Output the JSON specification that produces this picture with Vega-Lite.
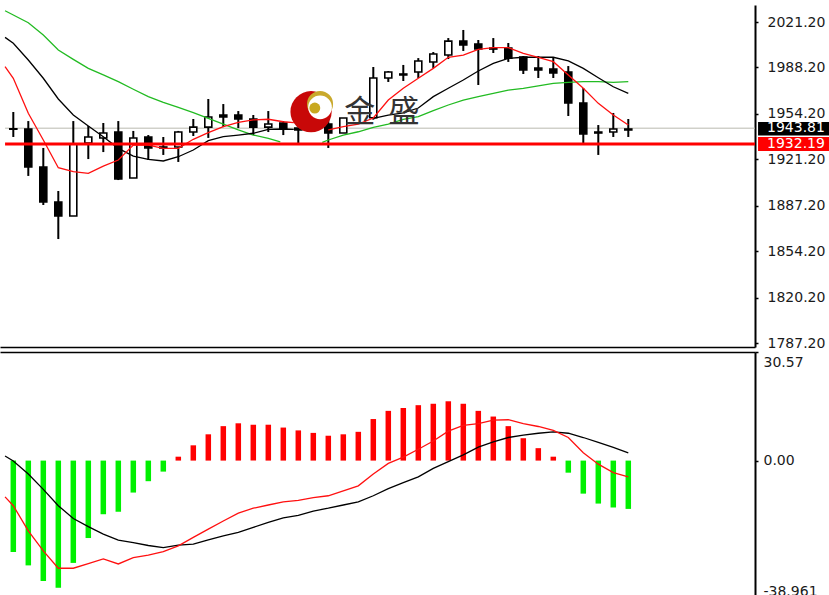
{"$schema":"https://vega.github.io/schema/vega-lite/v6.json","background":"white","padding":{"left":0,"top":5,"right":0,"bottom":0},"spacing":0,"config":{"view":{"stroke":null},"axis":{"grid":false}},
"datasets":{
"candles":[
{"i":0,"open":1943.4,"high":1955.6,"low":1937.4,"close":1943.0,"dir":"down"},
{"i":1,"open":1943.2,"high":1949.0,"low":1909.0,"close":1915.5,"dir":"down"},
{"i":2,"open":1915.5,"high":1929.4,"low":1887.8,"close":1890.0,"dir":"down"},
{"i":3,"open":1890.0,"high":1898.0,"low":1863.0,"close":1879.8,"dir":"down"},
{"i":4,"open":1879.8,"high":1949.0,"low":1879.8,"close":1932.3,"dir":"up"},
{"i":5,"open":1933.0,"high":1945.4,"low":1921.3,"close":1937.4,"dir":"up"},
{"i":6,"open":1936.7,"high":1947.6,"low":1926.4,"close":1940.3,"dir":"up"},
{"i":7,"open":1941.0,"high":1949.0,"low":1906.0,"close":1906.8,"dir":"down"},
{"i":8,"open":1907.5,"high":1941.8,"low":1907.5,"close":1936.7,"dir":"up"},
{"i":9,"open":1937.4,"high":1938.8,"low":1920.6,"close":1929.4,"dir":"down"},
{"i":10,"open":1930.1,"high":1937.4,"low":1924.3,"close":1929.4,"dir":"down"},
{"i":11,"open":1930.1,"high":1941.8,"low":1919.2,"close":1941.0,"dir":"up"},
{"i":12,"open":1941.0,"high":1950.5,"low":1938.1,"close":1944.6,"dir":"up"},
{"i":13,"open":1944.6,"high":1965.1,"low":1936.7,"close":1951.95,"dir":"up"},
{"i":14,"open":1953.4,"high":1961.4,"low":1944.6,"close":1951.95,"dir":"down"},
{"i":15,"open":1953.4,"high":1956.3,"low":1943.9,"close":1950.5,"dir":"down"},
{"i":16,"open":1950.5,"high":1953.4,"low":1938.8,"close":1944.6,"dir":"down"},
{"i":17,"open":1944.6,"high":1956.3,"low":1941.0,"close":1946.9,"dir":"up"},
{"i":18,"open":1947.6,"high":1949.0,"low":1938.8,"close":1943.2,"dir":"down"},
{"i":19,"open":1943.9,"high":1943.9,"low":1933.0,"close":1942.5,"dir":"down"},
{"i":21,"open":1946.9,"high":1949.8,"low":1929.4,"close":1940.3,"dir":"down"},
{"i":22,"open":1940.3,"high":1951.2,"low":1940.3,"close":1951.2,"dir":"up"},
{"i":24,"open":1951.4,"high":1988.4,"low":1950.0,"close":1980.4,"dir":"up"},
{"i":25,"open":1980.4,"high":1985.5,"low":1977.5,"close":1984.8,"dir":"up"},
{"i":26,"open":1983.3,"high":1989.9,"low":1978.2,"close":1982.6,"dir":"down"},
{"i":27,"open":1984.8,"high":1994.9,"low":1980.4,"close":1992.8,"dir":"up"},
{"i":28,"open":1992.1,"high":1999.3,"low":1987.7,"close":1997.9,"dir":"up"},
{"i":29,"open":1997.1,"high":2009.5,"low":1994.2,"close":2007.3,"dir":"up"},
{"i":30,"open":2007.3,"high":2015.4,"low":2000.1,"close":2004.4,"dir":"down"},
{"i":31,"open":2005.2,"high":2008.1,"low":1975.3,"close":2001.5,"dir":"down"},
{"i":32,"open":2002.2,"high":2009.5,"low":1998.6,"close":2001.5,"dir":"down"},
{"i":33,"open":2002.2,"high":2005.9,"low":1992.1,"close":1994.9,"dir":"down"},
{"i":34,"open":1995.7,"high":1996.4,"low":1983.3,"close":1986.2,"dir":"down"},
{"i":35,"open":1987.7,"high":1996.4,"low":1980.4,"close":1986.2,"dir":"down"},
{"i":36,"open":1986.9,"high":1995.7,"low":1980.4,"close":1984.0,"dir":"down"},
{"i":37,"open":1984.8,"high":1989.1,"low":1952.7,"close":1962.2,"dir":"down"},
{"i":38,"open":1962.2,"high":1973.1,"low":1933.0,"close":1939.6,"dir":"down"},
{"i":39,"open":1941.0,"high":1946.1,"low":1924.3,"close":1940.3,"dir":"down"},
{"i":40,"open":1941.0,"high":1954.9,"low":1937.4,"close":1943.2,"dir":"up"},
{"i":41,"open":1943.2,"high":1950.5,"low":1937.4,"close":1942.5,"dir":"down"}
],
"ma":[
{"s":"green","seg":1,"i":-0.55,"v":2029.4},{"s":"green","seg":1,"i":0,"v":2026.3},{"s":"green","seg":1,"i":1,"v":2020.7},{"s":"green","seg":1,"i":2,"v":2011.7},{"s":"green","seg":1,"i":3,"v":2000.8},{"s":"green","seg":1,"i":4,"v":1994.0},{"s":"green","seg":1,"i":5,"v":1987.4},{"s":"green","seg":1,"i":6,"v":1982.6},{"s":"green","seg":1,"i":7,"v":1977.7},{"s":"green","seg":1,"i":8,"v":1972.2},{"s":"green","seg":1,"i":9,"v":1966.8},{"s":"green","seg":1,"i":10,"v":1962.7},{"s":"green","seg":1,"i":11,"v":1959.0},{"s":"green","seg":1,"i":12,"v":1955.1},{"s":"green","seg":1,"i":13,"v":1951.0},{"s":"green","seg":1,"i":14,"v":1946.8},{"s":"green","seg":1,"i":15,"v":1942.5},{"s":"green","seg":1,"i":16,"v":1938.8},{"s":"green","seg":1,"i":17,"v":1936.4},{"s":"green","seg":1,"i":17.8,"v":1933.9},
{"s":"green","seg":2,"i":20.6,"v":1933.5},{"s":"green","seg":2,"i":21,"v":1935.2},{"s":"green","seg":2,"i":22,"v":1938.8},{"s":"green","seg":2,"i":23,"v":1941.2},{"s":"green","seg":2,"i":24,"v":1944.4},{"s":"green","seg":2,"i":25,"v":1946.8},{"s":"green","seg":2,"i":26,"v":1950.3},{"s":"green","seg":2,"i":27,"v":1952.2},{"s":"green","seg":2,"i":28,"v":1956.6},{"s":"green","seg":2,"i":29,"v":1960.7},{"s":"green","seg":2,"i":30,"v":1964.3},{"s":"green","seg":2,"i":31,"v":1966.8},{"s":"green","seg":2,"i":32,"v":1969.2},{"s":"green","seg":2,"i":33,"v":1971.6},{"s":"green","seg":2,"i":34,"v":1972.9},{"s":"green","seg":2,"i":35,"v":1974.6},{"s":"green","seg":2,"i":36,"v":1976.5},{"s":"green","seg":2,"i":37,"v":1977.2},{"s":"green","seg":2,"i":38,"v":1977.7},{"s":"green","seg":2,"i":39,"v":1977.7},{"s":"green","seg":2,"i":40,"v":1977.2},{"s":"green","seg":2,"i":41,"v":1977.7},
{"s":"black","seg":3,"i":-0.55,"v":2010.0},{"s":"black","seg":3,"i":0,"v":2005.7},{"s":"black","seg":3,"i":1,"v":1993.5},{"s":"black","seg":3,"i":2,"v":1980.2},{"s":"black","seg":3,"i":3,"v":1965.1},{"s":"black","seg":3,"i":4,"v":1953.4},{"s":"black","seg":3,"i":5,"v":1945.4},{"s":"black","seg":3,"i":6,"v":1937.6},{"s":"black","seg":3,"i":7,"v":1929.1},{"s":"black","seg":3,"i":8,"v":1923.5},{"s":"black","seg":3,"i":9,"v":1921.1},{"s":"black","seg":3,"i":10,"v":1919.9},{"s":"black","seg":3,"i":11,"v":1923.0},{"s":"black","seg":3,"i":12,"v":1927.9},{"s":"black","seg":3,"i":13,"v":1934.7},{"s":"black","seg":3,"i":14,"v":1937.6},{"s":"black","seg":3,"i":15,"v":1938.8},{"s":"black","seg":3,"i":16,"v":1940.1},{"s":"black","seg":3,"i":17,"v":1943.0},{"s":"black","seg":3,"i":18,"v":1943.2},{"s":"black","seg":3,"i":18.7,"v":1943.0},
{"s":"black","seg":4,"i":24,"v":1951.0},{"s":"black","seg":4,"i":25,"v":1953.4},{"s":"black","seg":4,"i":26,"v":1954.9},{"s":"black","seg":4,"i":27,"v":1958.5},{"s":"black","seg":4,"i":28,"v":1966.8},{"s":"black","seg":4,"i":29,"v":1972.9},{"s":"black","seg":4,"i":30,"v":1978.9},{"s":"black","seg":4,"i":31,"v":1985.5},{"s":"black","seg":4,"i":32,"v":1991.1},{"s":"black","seg":4,"i":33,"v":1994.7},{"s":"black","seg":4,"i":34,"v":1995.5},{"s":"black","seg":4,"i":35,"v":1995.5},{"s":"black","seg":4,"i":36,"v":1995.5},{"s":"black","seg":4,"i":37,"v":1992.8},{"s":"black","seg":4,"i":38,"v":1987.4},{"s":"black","seg":4,"i":39,"v":1980.6},{"s":"black","seg":4,"i":40,"v":1974.0},{"s":"black","seg":4,"i":41,"v":1969.2},
{"s":"red","seg":5,"i":-0.55,"v":1988.6},{"s":"red","seg":5,"i":0,"v":1980.2},{"s":"red","seg":5,"i":1,"v":1954.7},{"s":"red","seg":5,"i":2,"v":1935.2},{"s":"red","seg":5,"i":3,"v":1915.0},{"s":"red","seg":5,"i":4,"v":1912.1},{"s":"red","seg":5,"i":5,"v":1910.9},{"s":"red","seg":5,"i":6,"v":1916.2},{"s":"red","seg":5,"i":7,"v":1920.6},{"s":"red","seg":5,"i":8,"v":1931.5},{"s":"red","seg":5,"i":9,"v":1931.5},{"s":"red","seg":5,"i":10,"v":1929.1},{"s":"red","seg":5,"i":11,"v":1929.1},{"s":"red","seg":5,"i":12,"v":1935.7},{"s":"red","seg":5,"i":13,"v":1940.5},{"s":"red","seg":5,"i":14,"v":1944.9},{"s":"red","seg":5,"i":15,"v":1948.1},{"s":"red","seg":5,"i":16,"v":1949.8},{"s":"red","seg":5,"i":17,"v":1950.3},{"s":"red","seg":5,"i":18,"v":1948.5},{"s":"red","seg":5,"i":18.7,"v":1947.8},
{"s":"red","seg":6,"i":21,"v":1942.5},{"s":"red","seg":6,"i":22,"v":1944.9},{"s":"red","seg":6,"i":23,"v":1946.8},{"s":"red","seg":6,"i":24,"v":1951.2},{"s":"red","seg":6,"i":25,"v":1964.3},{"s":"red","seg":6,"i":26,"v":1972.9},{"s":"red","seg":6,"i":27,"v":1980.2},{"s":"red","seg":6,"i":28,"v":1987.4},{"s":"red","seg":6,"i":29,"v":1995.5},{"s":"red","seg":6,"i":30,"v":1997.1},{"s":"red","seg":6,"i":31,"v":2001.3},{"s":"red","seg":6,"i":32,"v":2002.5},{"s":"red","seg":6,"i":33,"v":2002.5},{"s":"red","seg":6,"i":34,"v":1998.4},{"s":"red","seg":6,"i":35,"v":1995.5},{"s":"red","seg":6,"i":36,"v":1992.3},{"s":"red","seg":6,"i":37,"v":1982.6},{"s":"red","seg":6,"i":38,"v":1972.9},{"s":"red","seg":6,"i":39,"v":1961.9},{"s":"red","seg":6,"i":40,"v":1953.4},{"s":"red","seg":6,"i":41,"v":1946.1}
],
"hist":[
{"i":0,"v":-25.7,"dir":"down"},{"i":1,"v":-29.5,"dir":"down"},{"i":2,"v":-33.9,"dir":"down"},{"i":3,"v":-35.8,"dir":"down"},{"i":4,"v":-28.8,"dir":"down"},{"i":5,"v":-21.8,"dir":"down"},{"i":6,"v":-15.1,"dir":"down"},{"i":7,"v":-14.4,"dir":"down"},{"i":8,"v":-9.0,"dir":"down"},{"i":9,"v":-5.8,"dir":"down"},{"i":10,"v":-3.1,"dir":"down"},{"i":11,"v":1.1,"dir":"up"},{"i":12,"v":4.3,"dir":"up"},{"i":13,"v":7.4,"dir":"up"},{"i":14,"v":9.7,"dir":"up"},{"i":15,"v":10.5,"dir":"up"},{"i":16,"v":10.1,"dir":"up"},{"i":17,"v":10.1,"dir":"up"},{"i":18,"v":9.3,"dir":"up"},{"i":19,"v":8.5,"dir":"up"},{"i":20,"v":7.8,"dir":"up"},{"i":21,"v":7.0,"dir":"up"},{"i":22,"v":7.4,"dir":"up"},{"i":23,"v":8.1,"dir":"up"},{"i":24,"v":11.7,"dir":"up"},{"i":25,"v":14.0,"dir":"up"},{"i":26,"v":14.8,"dir":"up"},{"i":27,"v":15.6,"dir":"up"},{"i":28,"v":16.0,"dir":"up"},{"i":29,"v":16.7,"dir":"up"},{"i":30,"v":16.0,"dir":"up"},{"i":31,"v":14.0,"dir":"up"},{"i":32,"v":12.4,"dir":"up"},{"i":33,"v":9.7,"dir":"up"},{"i":34,"v":6.3,"dir":"up"},{"i":35,"v":3.5,"dir":"up"},{"i":36,"v":1.1,"dir":"up"},{"i":37,"v":-3.4,"dir":"down"},{"i":38,"v":-9.3,"dir":"down"},{"i":39,"v":-12.1,"dir":"down"},{"i":40,"v":-13.2,"dir":"down"},{"i":41,"v":-13.6,"dir":"down"}
],
"macd":[
{"s":"black","i":-0.55,"v":1.3},{"s":"black","i":0,"v":-0.1},{"s":"black","i":1,"v":-3.8},{"s":"black","i":2,"v":-8.1},{"s":"black","i":3,"v":-12.7},{"s":"black","i":4,"v":-16.3},{"s":"black","i":5,"v":-18.6},{"s":"black","i":6,"v":-20.7},{"s":"black","i":7,"v":-22.4},{"s":"black","i":8,"v":-23.1},{"s":"black","i":9,"v":-23.9},{"s":"black","i":10,"v":-24.5},{"s":"black","i":11,"v":-23.8},{"s":"black","i":12,"v":-23.5},{"s":"black","i":13,"v":-22.3},{"s":"black","i":14,"v":-21.2},{"s":"black","i":15,"v":-20.2},{"s":"black","i":16,"v":-18.8},{"s":"black","i":17,"v":-17.4},{"s":"black","i":18,"v":-16.1},{"s":"black","i":19,"v":-15.4},{"s":"black","i":20,"v":-14.2},{"s":"black","i":21,"v":-13.4},{"s":"black","i":22,"v":-12.5},{"s":"black","i":23,"v":-11.6},{"s":"black","i":24,"v":-9.9},{"s":"black","i":25,"v":-7.9},{"s":"black","i":26,"v":-6.2},{"s":"black","i":27,"v":-4.6},{"s":"black","i":28,"v":-2.2},{"s":"black","i":29,"v":-0.3},{"s":"black","i":30,"v":1.6},{"s":"black","i":31,"v":3.8},{"s":"black","i":32,"v":5.3},{"s":"black","i":33,"v":6.5},{"s":"black","i":34,"v":7.2},{"s":"black","i":35,"v":7.7},{"s":"black","i":36,"v":8.1},{"s":"black","i":37,"v":7.7},{"s":"black","i":38,"v":6.5},{"s":"black","i":39,"v":5.1},{"s":"black","i":40,"v":3.7},{"s":"black","i":41,"v":2.2},
{"s":"red","i":-0.55,"v":-10.2},{"s":"red","i":0,"v":-12.7},{"s":"red","i":1,"v":-19.8},{"s":"red","i":2,"v":-25.4},{"s":"red","i":3,"v":-30.3},{"s":"red","i":4,"v":-30.3},{"s":"red","i":5,"v":-29.0},{"s":"red","i":6,"v":-27.7},{"s":"red","i":7,"v":-29.1},{"s":"red","i":8,"v":-27.3},{"s":"red","i":9,"v":-26.6},{"s":"red","i":10,"v":-25.6},{"s":"red","i":11,"v":-24.0},{"s":"red","i":12,"v":-21.6},{"s":"red","i":13,"v":-19.3},{"s":"red","i":14,"v":-17.0},{"s":"red","i":15,"v":-14.8},{"s":"red","i":16,"v":-13.4},{"s":"red","i":17,"v":-12.5},{"s":"red","i":18,"v":-11.6},{"s":"red","i":19,"v":-11.2},{"s":"red","i":20,"v":-10.4},{"s":"red","i":21,"v":-9.9},{"s":"red","i":22,"v":-8.5},{"s":"red","i":23,"v":-7.1},{"s":"red","i":24,"v":-3.8},{"s":"red","i":25,"v":-0.8},{"s":"red","i":26,"v":1.0},{"s":"red","i":27,"v":3.2},{"s":"red","i":28,"v":5.5},{"s":"red","i":29,"v":8.3},{"s":"red","i":30,"v":9.9},{"s":"red","i":31,"v":10.4},{"s":"red","i":32,"v":11.4},{"s":"red","i":33,"v":11.5},{"s":"red","i":34,"v":10.4},{"s":"red","i":35,"v":9.6},{"s":"red","i":36,"v":8.5},{"s":"red","i":37,"v":6.5},{"s":"red","i":38,"v":2.2},{"s":"red","i":39,"v":-1.0},{"s":"red","i":40,"v":-3.4},{"s":"red","i":41,"v":-4.6}
],
"levels":[{"name":"bid","price":1943.81,"from":-0.55,"to":49.447,"labelAt":50.25,"label":"1943.81"},{"name":"ask","price":1932.19,"from":-0.55,"to":49.447,"labelAt":50.25,"label":"1932.19"}],
"boxes":[{"name":"bid","top":1948.4,"bottom":1938.4},{"name":"ask","top":1937.4,"bottom":1927.2}],
"brand":[{"i":23.1,"p":1955.2,"t":"金"},{"i":26.05,"p":1955.2,"t":"盛"}]
},
"vconcat":[
{"width":755,"height":342,"layer":[
{"data":{"name":"levels"},"transform":[{"filter":"datum.name=='bid'"}],"mark":{"type":"rule","stroke":"#b9b9b0","strokeWidth":1},
 "encoding":{"x":{"field":"from","type":"quantitative","scale":{"domain":[-0.887,49.447],"nice":false,"zero":false,"padding":0},"axis":{"labels":false,"ticks":false,"title":null,"domain":true,"domainColor":"black","domainWidth":1.5}},"x2":{"field":"to"},
 "y":{"field":"price","type":"quantitative","scale":{"domain":[1784.3,2033.6],"nice":false,"zero":false},"axis":{"orient":"right","title":null,"values":[2021.2,1988.2,1954.2,1921.2,1887.2,1854.2,1820.2,1787.2],"format":".2f","labelFont":"DejaVu Sans","labelFontSize":14,"labelColor":"#1a1a1a","labelPadding":9,"tickSize":3,"tickColor":"black","tickWidth":1.5,"domainColor":"black","domainWidth":2,"labelOverlap":false,"labelFlush":false,"labelBound":false}}}},
{"data":{"name":"candles"},"mark":{"type":"rule","stroke":"black","strokeWidth":2},"encoding":{"x":{"field":"i","type":"quantitative"},"y":{"field":"high","type":"quantitative"},"y2":{"field":"low"}}},
{"data":{"name":"candles"},"mark":{"type":"bar","size":7,"stroke":"black","strokeWidth":1.6},"encoding":{"x":{"field":"i","type":"quantitative"},"y":{"field":"open","type":"quantitative"},"y2":{"field":"close"},"fill":{"field":"dir","type":"nominal","scale":{"domain":["up","down"],"range":["white","black"]},"legend":null}}},
{"data":{"name":"ma"},"mark":{"type":"line","strokeWidth":1.3},"encoding":{"x":{"field":"i","type":"quantitative"},"y":{"field":"v","type":"quantitative"},"detail":{"field":"seg"},"stroke":{"field":"s","type":"nominal","scale":{"domain":["green","black","red"],"range":["#22bb22","black","#ff1010"]},"legend":null},"order":{"field":"i"}}},
{"data":{"name":"levels"},"transform":[{"filter":"datum.name=='ask'"}],"mark":{"type":"rule","stroke":"#ff0000","strokeWidth":3},"encoding":{"x":{"field":"from","type":"quantitative"},"x2":{"field":"to"},"y":{"field":"price","type":"quantitative"}}},
{"data":{"values":[{"i":19.85,"p":1955.8}]},"mark":{"type":"point","filled":true,"size":1700,"color":"#c80808","opacity":1},"encoding":{"x":{"field":"i","type":"quantitative"},"y":{"field":"p","type":"quantitative"}}},
{"data":{"values":[{"i":20.45,"p":1961.4}]},"mark":{"type":"point","filled":true,"size":680,"color":"#c9a92c","opacity":1},"encoding":{"x":{"field":"i","type":"quantitative"},"y":{"field":"p","type":"quantitative"}}},
{"data":{"values":[{"i":20.45,"p":1959.0}]},"mark":{"type":"point","filled":true,"size":560,"color":"white","opacity":1},"encoding":{"x":{"field":"i","type":"quantitative"},"y":{"field":"p","type":"quantitative"}}},
{"data":{"values":[{"i":20.1,"p":1958.5}]},"mark":{"type":"point","filled":true,"size":120,"color":"#c8a820","opacity":1},"encoding":{"x":{"field":"i","type":"quantitative"},"y":{"field":"p","type":"quantitative"}}},
{"data":{"name":"brand"},"mark":{"type":"text","font":"Noto Sans CJK SC","fontSize":31,"color":"#333333","align":"center","baseline":"middle"},"encoding":{"x":{"field":"i","type":"quantitative"},"y":{"field":"p","type":"quantitative"},"text":{"field":"t"}}},
{"data":{"name":"boxes"},"transform":[{"filter":"datum.name=='bid'"}],"mark":{"type":"rect","fill":"black"},"encoding":{"x":{"datum":49.65,"type":"quantitative"},"x2":{"datum":54.4},"y":{"field":"top","type":"quantitative"},"y2":{"field":"bottom"}}},
{"data":{"name":"boxes"},"transform":[{"filter":"datum.name=='ask'"}],"mark":{"type":"rect","fill":"#ff0000"},"encoding":{"x":{"datum":49.65,"type":"quantitative"},"x2":{"datum":54.4},"y":{"field":"top","type":"quantitative"},"y2":{"field":"bottom"}}},
{"data":{"name":"levels"},"mark":{"type":"text","font":"DejaVu Sans","fontSize":14,"color":"white","align":"left","baseline":"middle"},"encoding":{"x":{"field":"labelAt","type":"quantitative"},"y":{"field":"price","type":"quantitative"},"text":{"field":"label"}}}
]},
{"width":755,"height":247,"layer":[
{"data":{"name":"hist"},"mark":{"type":"bar","size":5.5},"encoding":{"x":{"field":"i","type":"quantitative","scale":{"domain":[-0.887,49.447],"nice":false,"zero":false,"padding":0},"axis":{"orient":"top","labels":false,"ticks":false,"title":null,"domain":true,"domainColor":"black","domainWidth":1.5}},
 "y":{"field":"v","type":"quantitative","scale":{"domain":[-38.961,30.57],"nice":false,"zero":false},"axis":{"orient":"right","title":null,"values":[30.57,0,-38.961],"labelExpr":"datum.value==-38.961?'-38.961':format(datum.value,'.2f')","labelFont":"DejaVu Sans","labelFontSize":14,"labelColor":"#1a1a1a","labelPadding":5,"labelOffset":{"condition":[{"test":"datum.value==30.57","value":10},{"test":"datum.value==-38.961","value":-8}],"value":0},"tickSize":3,"tickColor":"black","tickWidth":1.5,"domainColor":"black","domainWidth":2,"labelOverlap":false,"labelFlush":false,"labelBound":false}},"y2":{"datum":0},"fill":{"field":"dir","type":"nominal","scale":{"domain":["up","down"],"range":["#ff0000","#00f000"]},"legend":null}}},
{"data":{"name":"macd"},"mark":{"type":"line","strokeWidth":1.3},"encoding":{"x":{"field":"i","type":"quantitative"},"y":{"field":"v","type":"quantitative"},"stroke":{"field":"s","type":"nominal","scale":{"domain":["black","red"],"range":["black","#ff1010"]},"legend":null},"order":{"field":"i"}}}
]}
],"resolve":{"scale":{"fill":"independent","stroke":"independent"}}}
